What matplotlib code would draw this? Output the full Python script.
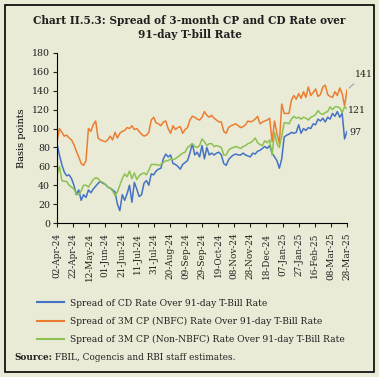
import matplotlib
matplotlib.use("Agg")
import matplotlib.pyplot as plt
import matplotlib.dates as mdates
import pandas as pd
from matplotlib.patches import Rectangle
from matplotlib.lines import Line2D

BG, INK = "#e9ebd6", "#231f20"
BLUE, ORANGE, GREEN = "#4472c4", "#ed7d31", "#8cc152"
plt.rcParams.update({"font.family": "DejaVu Serif", "text.color": INK,
                     "xtick.color": INK, "ytick.color": INK})

# every 3 calendar days, 02-Apr-24 .. 28-Mar-25
dates = pd.date_range("2024-04-02", "2025-03-28", freq="3D")
cd = [84, 72, 62, 54, 50, 51, 47, 40, 30, 35, 24, 30, 27, 35, 32, 36, 39, 42, 44, 42,
      41, 38, 37, 35, 33, 20, 13, 30, 24, 31, 40, 22, 43, 36, 28, 30, 42, 45, 40, 52,
      51, 55, 57, 58, 68, 73, 70, 72, 63, 62, 60, 57, 62, 64, 66, 74, 84, 72, 75, 70,
      82, 68, 80, 72, 74, 72, 74, 75, 72, 63, 61, 67, 70, 72, 73, 72, 72, 74, 72, 71,
      70, 74, 73, 76, 77, 79, 81, 79, 82, 74, 70, 66, 58, 68, 91, 93, 94, 96, 95, 96,
      104, 95, 100, 98, 101, 100, 105, 104, 110, 108, 111, 107, 112, 110, 116, 113, 118, 112, 116, 89,
      97]
cp_nbfc = [86, 100, 96, 92, 93, 90, 88, 83, 76, 70, 63, 61, 66, 100, 97, 104, 108, 90, 88, 87,
           86, 88, 92, 88, 96, 90, 95, 97, 98, 101, 100, 103, 99, 100, 97, 94, 92, 93, 96, 109,
           112, 106, 105, 103, 107, 108, 100, 95, 103, 99, 101, 102, 95, 99, 101, 109, 113, 112, 110, 109,
           112, 118, 114, 112, 114, 111, 109, 107, 107, 97, 95, 101, 103, 104, 105, 103, 101, 102, 104, 108,
           107, 108, 110, 113, 105, 107, 108, 109, 111, 86, 108, 95, 84, 126, 116, 116, 116, 130, 135, 131,
           137, 132, 139, 133, 144, 135, 138, 142, 134, 136, 144, 146, 136, 134, 133, 139, 135, 143, 137, 124,
           141]
cp_non = [50, 60, 45, 44, 44, 40, 38, 36, 31, 30, 34, 40, 40, 38, 42, 46, 48, 47, 44, 43,
          41, 38, 37, 34, 29, 33, 40, 47, 52, 49, 55, 47, 53, 46, 50, 52, 53, 51, 56, 62,
          62, 62, 61, 62, 64, 66, 66, 68, 67, 68, 70, 72, 74, 75, 80, 82, 84, 81, 80, 82,
          89, 86, 82, 84, 84, 81, 82, 81, 80, 72, 72, 77, 79, 80, 81, 80, 79, 81, 82, 84,
          85, 87, 90, 85, 83, 82, 87, 85, 88, 72, 96, 84, 80, 92, 106, 106, 105, 110, 113, 111,
          112, 110, 112, 111, 109, 112, 113, 115, 119, 116, 115, 117, 118, 123, 120, 123, 123, 122, 117, 123,
          121]
labels = ["Spread of CD Rate Over 91-day T-Bill Rate",
          "Spread of 3M CP (NBFC) Rate Over 91-day T-Bill Rate",
          "Spread of 3M CP (Non-NBFC) Rate Over 91-day T-Bill Rate"]
tick_dates = pd.date_range("2024-04-02", "2025-03-28", freq="20D")

W, H = 379, 377
fig = plt.figure(figsize=(W / 100, H / 100), dpi=100, facecolor=BG)
fig.patches.append(Rectangle((5 / W, 5 / H), 369 / W, 367 / H, transform=fig.transFigure,
                             fill=False, edgecolor="black", lw=1.2))
fig.text(0.5, 1 - 20 / H, "Chart II.5.3: Spread of 3-month CP and CD Rate over",
         ha="center", va="center", fontsize=7.6, fontweight="bold")
fig.text(0.5, 1 - 34 / H, "91-day T-bill Rate", ha="center", va="center",
         fontsize=7.6, fontweight="bold")

ax = fig.add_axes([57 / W, 1 - 223 / H, 290 / W, 170 / H], facecolor=BG)
ax.plot(dates, cd, color=BLUE, lw=1.1)
ax.plot(dates, cp_nbfc, color=ORANGE, lw=1.1)
ax.plot(dates, cp_non, color=GREEN, lw=1.1)
ax.set_ylim(0, 180)
ax.set_yticks(range(0, 181, 20))
ax.set_xlim(dates[0], dates[-1])
ax.set_xticks(tick_dates)
ax.xaxis.set_major_formatter(mdates.DateFormatter("%d-%b-%y"))
ax.tick_params(axis="x", rotation=90, labelsize=6.4, length=3, width=0.8, pad=4)
ax.tick_params(axis="y", labelsize=6.8, length=3, width=0.8, pad=2)
for s in ["top", "right"]:
    ax.spines[s].set_visible(False)
for s in ["left", "bottom"]:
    ax.spines[s].set_linewidth(0.8)
ax.set_ylabel("Basis points", fontsize=7, labelpad=4)

# end labels
ax.annotate(f"{cp_nbfc[-1]}", xy=(dates[-1], cp_nbfc[-1]), xytext=(6, 11),
            textcoords="offset points", fontsize=6.8, ha="left", va="center",
            arrowprops=dict(arrowstyle="-", color="#9aa3b8", lw=0.8),
            annotation_clip=False)
ax.annotate(f"{cp_non[-1]}", xy=(dates[-1], cp_non[-1]), xytext=(1, -1),
            textcoords="offset points", fontsize=6.8, ha="left", va="center",
            annotation_clip=False)
ax.annotate(f"{cd[-1]}", xy=(dates[-1], cd[-1]), xytext=(2, -1),
            textcoords="offset points", fontsize=6.8, ha="left", va="center",
            annotation_clip=False)

handles = [Line2D([], [], color=c, lw=1.5) for c in (BLUE, ORANGE, GREEN)]
fig.legend(handles, labels, loc="upper left", bbox_to_anchor=(33 / W, 1 - 295 / H),
           frameon=False, fontsize=6.6, handlelength=3.0, handletextpad=0.6,
           labelspacing=1.0, borderaxespad=0)

src = fig.text(14 / W, 1 - 357 / H, "Source:", fontsize=6.4, fontweight="bold",
               va="center")
fig.canvas.draw()
bb = src.get_window_extent()
fig.text((bb.x1 + 3) / W, 1 - 357 / H, "FBIL, Cogencis and RBI staff estimates.",
         fontsize=6.4, va="center")

fig.savefig("out.png", dpi=100, facecolor=BG)
